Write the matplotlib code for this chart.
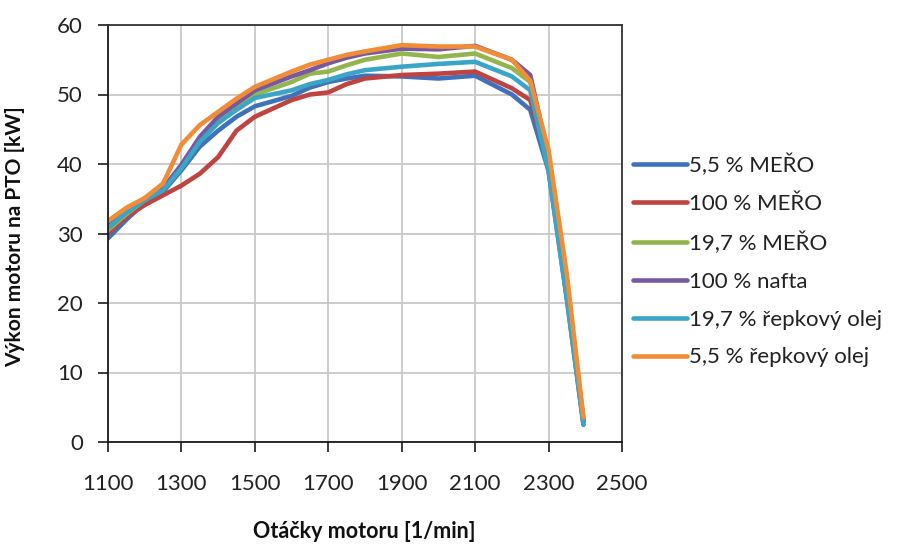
import matplotlib
matplotlib.use("Agg")
import matplotlib.pyplot as plt

plt.rcParams['font.family'] = ['Lato', 'DejaVu Sans']

# otáčky motoru [1/min]
rpm = [1100, 1150, 1200, 1250, 1300, 1350, 1400, 1450, 1500, 1600, 1650,
       1700, 1750, 1800, 1900, 2000, 2100, 2200, 2250, 2300, 2350, 2395]

# výkon na PTO [kW]
mero_5 = [29.3, 32.0, 34.4, 36.0, 39.1, 42.5, 44.8, 46.8, 48.3, 49.8, 51.0,
          51.8, 52.3, 52.7, 52.6, 52.3, 52.7, 50.0, 47.8, 39.0, 20.5, 2.5]
mero_100 = [30.0, 32.4, 34.1, 35.5, 36.9, 38.6, 41.0, 44.8, 46.8, 49.2, 50.0,
            50.3, 51.5, 52.3, 52.8, 53.0, 53.3, 50.9, 49.2, 40.0, 21.5, 3.0]
mero_19 = [30.5, 32.8, 34.8, 36.4, 39.6, 43.5, 46.3, 48.3, 50.0, 51.8, 53.0,
           53.3, 54.2, 55.0, 55.9, 55.4, 55.9, 53.8, 51.8, 40.5, 22.0, 3.0]
nafta_100 = [31.0, 33.3, 35.0, 36.5, 39.9, 43.9, 46.8, 48.7, 50.6, 52.6, 53.5,
             54.5, 55.3, 55.9, 56.6, 56.5, 57.0, 55.0, 52.8, 41.0, 22.5, 3.0]
olej_19 = [30.8, 33.0, 34.8, 36.2, 39.4, 43.2, 45.9, 47.8, 49.5, 50.6, 51.5,
           52.1, 52.9, 53.5, 54.0, 54.4, 54.7, 52.6, 50.6, 39.0, 20.5, 2.5]
olej_5 = [31.8, 33.7, 35.1, 37.2, 42.8, 45.6, 47.5, 49.4, 51.1, 53.3, 54.3,
          55.0, 55.7, 56.2, 57.1, 56.9, 56.9, 55.0, 52.0, 42.0, 24.0, 3.5]

series = [
    ("5,5 % MEŘO", mero_5, '#3F72B8'),
    ("100 % MEŘO", mero_100, '#BE4341'),
    ("19,7 % MEŘO", mero_19, '#93B54E'),
    ("100 % nafta", nafta_100, '#7659A0'),
    ("19,7 % řepkový olej", olej_19, '#3AA5C6'),
    ("5,5 % řepkový olej", olej_5, '#F28C36'),
]

fig = plt.figure(figsize=(9.01, 5.47), dpi=100)
ax = fig.add_axes([108 / 901, 1 - 442 / 547, 514 / 901, 417 / 547])

for label, vals, col in series:
    ax.plot(rpm, vals, color=col, lw=3.3, label=label,
            solid_capstyle='round', solid_joinstyle='round')

ax.set_xlim(1100, 2500)
ax.set_ylim(0, 60)
ax.set_xticks(range(1100, 2501, 200))
ax.set_yticks(range(0, 61, 10))
ax.grid(True, color='#C8C8C8', lw=1.3)
ax.set_axisbelow(True)

for s in ['left', 'bottom']:
    ax.spines[s].set_color('#1a1a1a')
    ax.spines[s].set_linewidth(1.3)
for s in ['top', 'right']:
    ax.spines[s].set_color('#333333')
    ax.spines[s].set_linewidth(1.3)

ax.tick_params(axis='both', direction='out', length=7, width=1.2,
               color='#1a1a1a', labelsize=16, labelcolor='#222222')
ax.tick_params(axis='x', pad=16)
ax.tick_params(axis='y', pad=11)

fig.text(364 / 901, 1 - 531 / 547, "Otáčky motoru [1/min]", fontsize=15.5,
         fontweight='bold', ha='center', va='center', color='#111111')
fig.text(15 / 901, 1 - 237 / 547, "Výkon motoru na PTO [kW]", fontsize=15,
         fontweight='bold', ha='center', va='center', rotation=90,
         color='#111111')

ax.legend(loc='center left', bbox_to_anchor=(633 / 901, 1 - 260.5 / 547),
          bbox_transform=fig.transFigure, frameon=False, fontsize=16,
          handlelength=2.45, handletextpad=0.05, labelspacing=0.8,
          borderpad=0, borderaxespad=0, labelcolor='#222222')

fig.savefig("out.png", dpi=100)
